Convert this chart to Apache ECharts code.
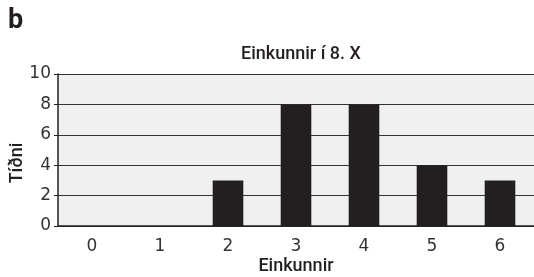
<!DOCTYPE html>
<html lang="en">
<head>
    <meta charset="UTF-8">
    <title>Einkunnir</title>
    <script src="https://cdn.jsdelivr.net/npm/echarts@6/dist/echarts.min.js"></script>
</head>
<style>
    *{
        margin: 0;
        padding: 0;
    }
    html , body{
        width: 534px;
        height: 277px;
        background: #fff;
    }
    .container{
        width: 534px;
        height: 277px;
    }
</style>
<body>
<div class="container"></div>
<script>
    let grades = ['0', '1', '2', '3', '4', '5', '6'];
    let counts = [0, 0, 3, 8, 8, 4, 3];

    let container = document.querySelector('.container');
    let mycharts = echarts.init(container);

    let options = {
        animation: false,
        title: {
            text: 'Einkunnir í 8. X',
            left: 296,
            textAlign: 'center',
            top: 40,
            textStyle: {
                fontFamily: 'Roboto',
                fontWeight: 500,
                fontSize: 18,
                color: '#231f20'
            }
        },
        graphic: [{
            type: 'text',
            left: 8,
            top: 8,
            style: {
                text: 'b',
                fontFamily: 'Roboto',
                fontWeight: 'bold',
                fontSize: 27,
                fill: '#231f20'
            }
        }],
        grid: {
            left: 58,
            right: 0,
            top: 74,
            bottom: 51,
            outerBoundsMode: 'none',
            show: true,
            backgroundColor: '#f0f0f0',
            borderWidth: 0
        },
        xAxis: {
            type: 'category',
            data: grades,
            name: 'Einkunnir',
            nameLocation: 'middle',
            nameGap: 31,
            nameMoveOverlap: false,
            nameTextStyle: {
                fontFamily: 'Roboto',
                fontWeight: 500,
                fontSize: 18,
                color: '#231f20'
            },
            axisLine: {lineStyle: {color: '#231f20', width: 1.5}},
            axisTick: {length: 4, lineStyle: {color: '#231f20'}},
            axisLabel: {
                fontFamily: 'DejaVu Sans',
                fontSize: 17,
                color: '#333',
                margin: 12
            }
        },
        yAxis: {
            type: 'value',
            min: 0,
            max: 10,
            interval: 2,
            name: 'Tíðni',
            nameLocation: 'middle',
            nameRotate: 90,
            nameGap: 32,
            nameMoveOverlap: false,
            nameTextStyle: {
                fontFamily: 'Roboto',
                fontWeight: 500,
                fontSize: 18,
                color: '#231f20',
                padding: [0, 26, 0, 0]
            },
            axisLine: {show: true, lineStyle: {color: '#231f20', width: 1.5}},
            axisTick: {show: true, length: 4, lineStyle: {color: '#231f20'}},
            axisLabel: {
                fontFamily: 'DejaVu Sans',
                fontSize: 17,
                color: '#333',
                margin: 7
            },
            splitLine: {lineStyle: {color: '#333', width: 1.2}}
        },
        series: [{
            type: 'bar',
            data: counts,
            barWidth: '45%',
            itemStyle: {color: '#231f20'}
        }]
    };

    mycharts.setOption(options);
</script>
</body>
</html>
